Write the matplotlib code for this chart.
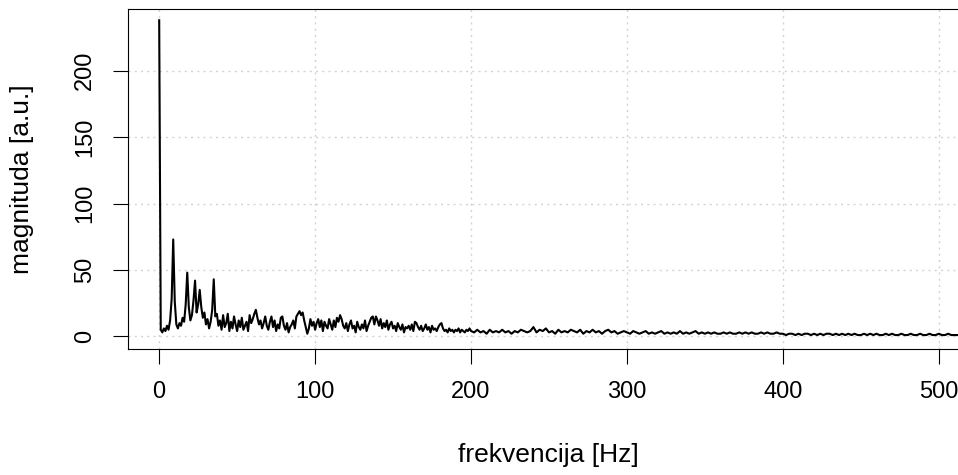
import numpy as np
import matplotlib.pyplot as plt

plt.rcParams['font.family'] = ['Liberation Sans', 'DejaVu Sans']

# spectrum, 1 Hz bins from 0 to 199 Hz
mag_low = [
    238, 5, 3, 6, 4, 8, 5, 12, 28, 73,
    26, 9, 6, 10, 8, 14, 11, 24, 48, 22,
    12, 16, 27, 42, 18, 24, 35, 22, 14, 18,
    9, 13, 6, 11, 20, 43, 15, 17, 8, 12,
    5, 16, 7, 10, 17, 4, 11, 6, 15, 9,
    4, 12, 7, 14, 5, 8, 11, 4, 16, 10,
    13, 17, 20, 14, 9, 12, 6, 10, 15, 8,
    5, 11, 15, 7, 12, 4, 9, 6, 14, 15,
    8, 5, 10, 3, 7, 9, 12, 6, 15, 17,
    19, 16, 18, 12, 7, 2, 6, 13, 8, 11,
    5, 10, 13, 7, 12, 4, 11, 8, 6, 13,
    9, 5, 12, 7, 14, 11, 16, 13, 8, 6,
    10, 4, 9, 12, 6, 8, 3, 11, 7, 5,
    9, 6, 12, 4, 8, 11, 14, 15, 9, 15,
    12, 8, 13, 6, 10, 7, 12, 5, 9, 11,
    6, 8, 4, 10, 7, 5, 9, 3, 7, 6,
    8, 5, 9, 4, 11, 10, 7, 5, 8, 4,
    6, 9, 5, 7, 3, 8, 5, 6, 4, 7,
    9, 10, 6, 4, 5, 3, 6, 4, 5, 3,
    5, 4, 6, 3, 5, 4, 3, 5, 4, 6,
]
freq_low = np.arange(0, 200, 1)

# spectrum, 2 Hz bins from 200 to 512 Hz
mag_high = [
    4, 3, 5, 3, 4, 2, 5, 3, 4, 3,
    5, 3, 4, 2, 4, 3, 5, 4, 3, 4,
    7, 3, 5, 4, 6, 3, 4, 2, 5, 3,
    4, 3, 5, 4, 3, 5, 2, 4, 3, 5,
    3, 4, 2, 4, 5, 3, 4, 2, 3, 4,
    3, 2, 4, 3, 2, 3, 4, 2, 3, 2,
    3, 4, 2, 3, 2, 3, 2, 4, 2, 3,
    2, 3, 4, 2, 3, 2, 3, 2, 3, 2,
    2, 3, 2, 3, 2, 2, 3, 2, 3, 2,
    3, 2, 2, 3, 2, 3, 2, 2, 3, 2,
    2, 1, 2, 2, 1, 2, 1, 2, 2, 1,
    2, 1, 2, 1, 2, 2, 1, 2, 1, 2,
    1, 2, 1, 2, 1, 1, 2, 1, 2, 1,
    2, 1, 1, 2, 1, 2, 1, 1, 2, 1,
    1, 2, 1, 1, 2, 1, 1, 2, 1, 1,
    2, 1, 1, 2, 1, 1, 1,
]
freq_high = np.arange(200, 513, 2)

freq = np.concatenate([freq_low, freq_high])
mag = np.concatenate([mag_low, mag_high])

x_ticks = [0, 100, 200, 300, 400, 500]
y_ticks = [0, 50, 100, 150, 200]

W, H = 958, 475
fig = plt.figure(figsize=(W / 100, H / 100), dpi=100)
# plot box: left 128 px, right 970 px (cropped off the image), top 9, bottom 349
ax = fig.add_axes([128 / W, (H - 349) / H, (970 - 128) / W, 340 / H])

for xv in x_ticks:
    ax.axvline(xv, color='#d3d3d3', lw=1.0, dashes=(1.5, 3), zorder=0)
for yv in y_ticks:
    ax.axhline(yv, color='#d3d3d3', lw=1.0, dashes=(1.5, 3), zorder=0)

ax.plot(freq, mag, color='black', lw=1.5, zorder=2)

ax.set_xlim(-20, 520)
ax.set_ylim(-9.5, 246.5)
ax.set_xticks(x_ticks)
ax.set_yticks(y_ticks)
ax.set_yticklabels([str(v) for v in y_ticks], rotation=90, va='center')

ax.tick_params(direction='out', length=11, width=0.8, labelsize=17, pad=12)
for s in ax.spines.values():
    s.set_linewidth(0.8)
    s.set_color('black')

fig.text(548 / W, 1 - 455 / H, 'frekvencija [Hz]', ha='center', va='center', fontsize=19)
fig.text(22 / W, 1 - 179 / H, 'magnituda [a.u.]',
         ha='center', va='center', rotation=90, fontsize=19)

fig.savefig('out.png', dpi=100)
